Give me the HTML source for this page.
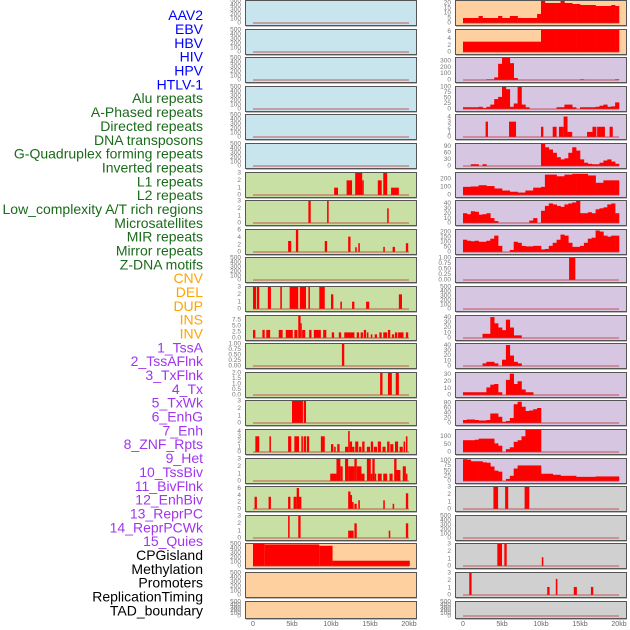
<!DOCTYPE html>
<html><head><meta charset="utf-8"><style>
html,body{margin:0;padding:0;background:#fff;}
svg{display:block;font-family:"Liberation Sans",sans-serif;}
</style></head><body>
<svg id="chart" width="630" height="630" viewBox="0 0 630 630"></svg>
<script>
const labels = ["AAV2","EBV","HBV","HIV","HPV","HTLV-1","Alu repeats","A-Phased repeats","Directed repeats","DNA transposons","G-Quadruplex forming repeats","Inverted repeats","L1 repeats","L2 repeats","Low_complexity A/T rich regions","Microsatellites","MIR repeats","Mirror repeats","Z-DNA motifs","CNV","DEL","DUP","INS","INV","1_TssA","2_TssAFlnk","3_TxFlnk","4_Tx","5_TxWk","6_EnhG","7_Enh","8_ZNF_Rpts","9_Het","10_TssBiv","11_BivFlnk","12_EnhBiv","13_ReprPC","14_ReprPCWk","15_Quies","CPGisland","Methylation","Promoters","ReplicationTiming","TAD_boundary"];
const labelGroups = ["v","v","v","v","v","v","r","r","r","r","r","r","r","r","r","r","r","r","r","s","s","s","s","s","c","c","c","c","c","c","c","c","c","c","c","c","c","c","c","k","k","k","k","k"];
const xTickKb = [0,5,10,15,20];
const xTickLabels = ["0","5kb","10kb","15kb","20kb"];
const T500 = [0,100,200,300,400,500];
const T3 = [0,1,2,3];
const leftBg = ["b","b","b","b","b","b","g","g","g","g","g","g","g","g","g","g","g","g","g","o","o","o"];
const rightBg = ["o","o","p","p","p","p","p","p","p","p","p","p","p","p","p","p","p","g2","g2","g2","g2","g2"];
const leftTicks = [T500,T500,T500,T500,T500,T500,T3,T3,[0,2,4,6],T500,T3,[0,2.5,5,7.5],[0,0.25,0.5,0.75,1],[0,0.5,1,1.5,2],T3,[0,1,2,3,4],T3,[0,2,4,6],T3,T500,T500,T500];
const leftMax = [500,500,500,500,500,500,3,3,6,500,3,9,1,2,3,4.2,3,6.3,3,500,500,500];
const rightTicks = [[0,5,10,15,20],[0,2,4,6],[0,100,200,300],[0,25,50,75,100],[0,1,2,3,4],[0,30,60,90],[0,100,200],[0,10,20,30,40],[0,50,100,150,200],[0,0.25,0.5,0.75,1],T500,[0,10,20,30,40],[0,10,20,30,40],[0,10,20,30],[0,20,40,60,80],[0,50,100],[0,25,50,75,100],T3,T500,T3,T3,T500];
const rightMax = [22,6.4,340,100,4.3,100,270,45,215,1,500,42,42,32,88,140,106,3,500,3,3,500];

const L6 = [[10.4,10.9,1],[12.0,12.7,2],[13.1,14.0,3],[14.0,14.2,2],[16.0,16.5,2],[16.7,17.2,3],[17.7,18.7,1]];
const L7 = [[7.1,7.4,3],[9.5,9.7,3],[17.2,17.4,2]];
const L8 = [[4.5,4.9,3],[5.5,5.8,6],[9.2,9.5,3],[12.2,12.5,4.2],[13.1,13.3,1.3],[13.5,13.7,2.4],[16.7,16.9,1.4],[17.9,18.2,1.4],[19.6,19.9,2.4]];
const L10 = [[0,0.4,3],[0.5,0.8,3],[1.9,2.3,3],[3.5,3.7,3],[4.7,5.8,3],[6.0,6.8,3],[7.1,7.3,3],[8.5,9.2,3],[10.0,10.3,2],[11.2,11.4,1],[12.7,13.0,1],[14.5,14.9,1],[18.7,19.1,2]];
const L11 = [[0,0.3,3.3],[1.2,1.5,3.3],[1.7,2.2,3.3],[3.3,3.8,3.3],[4.2,5.1,3.3],[5.3,5.7,3.3],[5.8,6.1,9],[6.1,6.2,6],[6.3,6.7,3.3],[7.2,7.5,3.3],[7.8,8.7,3.3],[9.0,9.4,3.3],[10.1,10.4,2.3],[11.0,11.3,2.3],[11.7,13.0,2.3],[13.3,13.6,2.3],[13.8,14.1,2.3],[14.2,14.5,3.3],[14.6,14.8,2.3],[15.1,15.3,1.5],[15.6,15.9,1.5],[16.2,16.5,2.3],[16.7,17.2,2.3],[17.3,17.6,3.3],[17.8,18.1,1.5],[18.2,18.5,2.3],[18.6,19.3,2.3],[19.6,19.9,2.3]];
const L12 = [[11.4,11.7,1]];
const L13 = [[16.3,16.6,2],[17.3,17.8,2],[18.3,18.7,2]];
const L14 = [[5.0,6.4,3],[6.5,6.8,3]];
const L15 = [[0.3,0.8,3],[2.1,2.3,3],[4.5,4.9,3],[5.3,5.9,3],[6.2,6.4,3],[6.5,6.8,3],[6.9,7.2,3],[8.7,9.2,3],[10.0,10.3,1.5],[10.4,10.6,1],[10.8,11.1,1.5],[11.8,12.2,1],[12.2,12.4,4],[12.4,12.7,2],[12.7,13.0,1],[13.1,13.5,2],[13.6,13.9,1],[14.0,14.3,2],[14.6,15.0,1],[15.1,15.4,2],[15.5,15.9,1],[16.0,16.4,2],[16.6,17.0,1],[17.2,17.5,2],[17.6,18.0,1.5],[18.2,18.6,2],[18.8,19.2,1],[19.3,19.5,2],[19.6,19.8,3]];
const L16 = [[9.9,10.7,1],[10.7,11.2,3],[11.2,11.5,2],[11.8,12.2,3],[12.2,13.0,2],[13.0,13.3,3],[13.3,13.9,2],[13.9,14.3,1],[14.6,15.1,3],[15.1,15.3,1],[15.3,15.6,3],[15.6,15.8,1],[16.0,16.5,1],[16.7,17.2,1],[17.5,17.9,1],[18.1,18.4,3],[18.4,18.9,1.5],[19.2,19.6,2],[19.6,19.8,1]];
const L17 = [[0.2,0.5,3.5],[2.0,2.3,3.5],[4.5,4.8,3.5],[5.2,5.6,3.5],[5.6,5.9,6],[5.9,6.2,3.5],[12.2,12.5,5],[12.5,12.7,4],[12.7,12.9,2],[13.0,13.3,1.5],[13.5,13.7,2.5],[16.7,16.9,2.5],[17.9,18.1,1.5],[19.6,19.9,4.5]];
const L18 = [[4.5,4.7,3],[5.8,6.1,3],[12.2,12.9,1],[13.0,13.3,2],[17.4,17.6,1],[19.6,19.9,2]];
const L19 = [[0,1.5,500],[1.5,8.5,490],[8.5,10.2,460],[10.2,20.1,120]];

const R0 = [5,5,5,5,7,5,5,5,5,7,5,5,7,7,5,5,5,5,5,9,22,20,20,20,20,22,20,20,19,19,18,18,18,18,17,17,17,17,18,17];
const R1 = [3,3,3,3,3,3,3,3,3,3,3,3,3,3,3,3,3,3,3,3,6.4,6.4,6.4,6.4,6.4,6.4,6.4,6.4,6.4,6.4,6.4,6.4,6.4,6.4,6.4,6.4,6.4,6.4,6.4,6.4];
const R2 = [0,0,0,0,0,0,10,10,40,250,340,340,260,30,0,0,0,0,0,0,0,0,0,0,0,0,0,0,0,0,10,0,0,0,0,0,0,0,0,10];
const R3 = [8,8,8,8,10,5,10,20,45,55,100,90,10,25,100,20,8,0,0,0,0,0,0,0,8,8,20,20,8,0,8,8,8,8,10,15,20,10,12,30];
const R4 = [[2.9,3.2,3],[5.9,6.8,3],[10.0,10.3,2],[11.5,12.0,2],[12.3,12.9,2],[12.9,13.4,4],[13.4,14.0,1],[15.9,16.6,1],[16.6,17.1,2],[17.2,18.2,2],[18.8,19.2,2]];
const R5 = [0,0,8,8,0,8,0,0,0,0,0,0,0,0,0,0,0,0,0,0,100,85,75,60,40,30,35,60,85,70,30,15,10,8,8,15,25,30,20,10];
const R6 = [100,100,105,105,120,120,110,110,80,80,55,55,40,40,30,30,55,55,90,90,100,250,250,250,230,230,250,250,260,260,260,260,240,240,150,150,180,180,180,180];
const R7 = [20,18,24,23,17,18,20,10,4,0,0,0,0,0,0,0,0,5,10,0,25,35,40,38,35,33,38,40,42,45,20,20,22,20,28,30,32,38,40,20];
const R8 = [120,110,105,110,100,100,110,130,160,60,0,0,20,100,90,60,55,55,60,60,25,30,60,90,120,170,160,90,50,50,60,90,130,140,210,200,160,150,160,160];
const R9 = [[13.6,14.4,1]];
const R11 = [0,0,0,0,0,8,8,40,28,20,15,35,20,5,5,0,0,0,0,0,0,0,0,0,0,0,0,0,0,0,0,0,0,0,0,0,0,0,0,0];
const R12 = [0,0,0,0,0,5,8,8,5,0,12,40,20,8,5,0,0,0,0,0,0,0,0,0,0,0,0,0,0,0,0,0,0,0,0,0,0,0,0,0];
const R13 = [4,4,4,4,4,4,11,15,16,4,0,22,31,16,20,8,4,4,0,0,0,0,0,0,0,0,0,0,0,0,0,0,0,0,0,0,0,0,0,0];
const R14 = [12,14,14,12,10,10,12,38,38,25,5,8,20,75,85,65,48,50,55,60,0,0,0,0,0,0,0,0,0,0,0,0,0,0,0,0,0,0,0,0];
const R15 = [75,75,75,78,85,85,85,85,55,40,0,18,30,65,75,100,140,140,140,140,0,0,0,0,0,0,0,0,0,0,0,0,0,0,0,0,0,0,0,0];
const R16 = [105,103,95,95,95,90,88,70,50,45,0,10,25,60,75,75,75,75,75,75,35,35,35,30,30,25,25,25,25,20,20,20,20,20,22,22,22,22,22,22];
const R17 = [[3.9,4.5,3],[5.4,5.8,3],[7.9,8.5,3]];
const R19 = [[4.4,5.0,3],[5.3,5.6,3],[10.1,10.3,1.2]];
const R20 = [[0.8,1.1,3],[10.8,11.1,1.1],[11.9,12.1,2.2],[14.2,14.6,1.1],[16.4,16.7,1.1]];

const leftData = [null,null,null,null,null,null,L6,L7,L8,null,L10,L11,L12,L13,L14,L15,L16,L17,L18,L19,null,null];
const rightData = [R0,R1,R2,R3,R4,R5,R6,R7,R8,R9,null,R11,R12,R13,R14,R15,R16,R17,null,R19,R20,null];

const NS = "http://www.w3.org/2000/svg";
const svg = document.getElementById("chart");
const bgColors = {b:"#c8e4ec", g:"#c8e0a4", o:"#fed0a0", p:"#d6c6e2", g2:"#d0d0d0"};
const labelColors = {v:"#0000ff", r:"#1a6b1a", s:"#ffa500", c:"#a035f0", k:"#000000"};
function mk(tag, attrs, parent){ const e=document.createElementNS(NS,tag); for(const k in attrs) e.setAttribute(k,attrs[k]); (parent||svg).appendChild(e); return e; }

labels.forEach((t,i)=>{
  const el = mk("text",{x:203,y:16.5+i*13.84,"text-anchor":"end","dominant-baseline":"middle","font-size":"14",fill:labelColors[labelGroups[i]]});
  el.textContent = t;
  
  
});

function panelTop(i){ return Math.round(i*28.6); }
function panelH(i){ return i===21 ? 17 : 25; }
function fmtTicks(ticks){
  let d = 0;
  ticks.forEach(v=>{ const s=String(v); if (s.includes(".")) d=Math.max(d,s.split(".")[1].length); });
  return ticks.map(v=>v.toFixed(d));
}

function drawPanel(i, side){
  const px = side==="L" ? 245 : 455;
  const x0 = px + 8, kbw = 7.8;
  const top = panelTop(i), h = panelH(i);
  const bg = side==="L" ? leftBg[i] : rightBg[i];
  const ticks = side==="L" ? leftTicks[i] : rightTicks[i];
  const ymax = side==="L" ? leftMax[i] : rightMax[i];
  const data = side==="L" ? leftData[i] : rightData[i];
  const g = mk("g",{});
  
  
  const base = top + h - 2, ptop = top + 1;
  const xs = kb => x0 + kb*kbw;
  const ys = v => base - (v/ymax)*(base-ptop);
  const r = mk("rect",{x:px+0.5,y:top+0.5,width:171,height:h,fill:bgColors[bg],stroke:"#555","stroke-width":1},g);
  
  
  mk("line",{x1:px+1,y1:top+h+1.5,x2:px+172,y2:top+h+1.5,stroke:"#bbb","stroke-width":1},g);
  const tl = fmtTicks(ticks);
  ticks.forEach((tv,k)=>{
    const t = mk("text",{x:px-4,y:ys(tv),"text-anchor":"end","dominant-baseline":"middle","font-size":"6.5",fill:"#777"},g);
    t.textContent = tl[k];
    
    
  });
  if (data){
    if (Array.isArray(data[0])){
      data.forEach(s=>{
        const b = mk("rect",{x:xs(s[0]),y:ys(s[2]),width:Math.max(1.2,xs(s[1])-xs(s[0])),height:base-ys(s[2]),fill:"#ff0000"},g);
        
        
      });
    } else {
      const bw = 20/data.length;
      data.forEach((v,k)=>{
        if (v<=0) return;
        const b = mk("rect",{x:xs(k*bw),y:ys(v),width:xs((k+1)*bw)-xs(k*bw)+0.3,height:base-ys(v),fill:"#ff0000"},g);
        
        
      });
    }
  }
  if (bg!=="o" || data) {
    const bl = mk("line",{x1:xs(0),y1:base,x2:xs(20),y2:base,stroke:"rgba(190,60,60,0.55)","stroke-width":1.6},g);
    
    
  }
}
for (let i=0;i<22;i++){ drawPanel(i,"L"); drawPanel(i,"R"); }

["L","R"].forEach(side=>{
  const x0 = side==="L" ? 253 : 463;
  xTickKb.forEach((kb,j)=>{
    const t = mk("text",{x:x0+kb*7.8,y:626,"text-anchor":"middle","font-size":"7",fill:"#666"});
    t.textContent = xTickLabels[j];
    
    
  });
});
</script>
</body></html>
